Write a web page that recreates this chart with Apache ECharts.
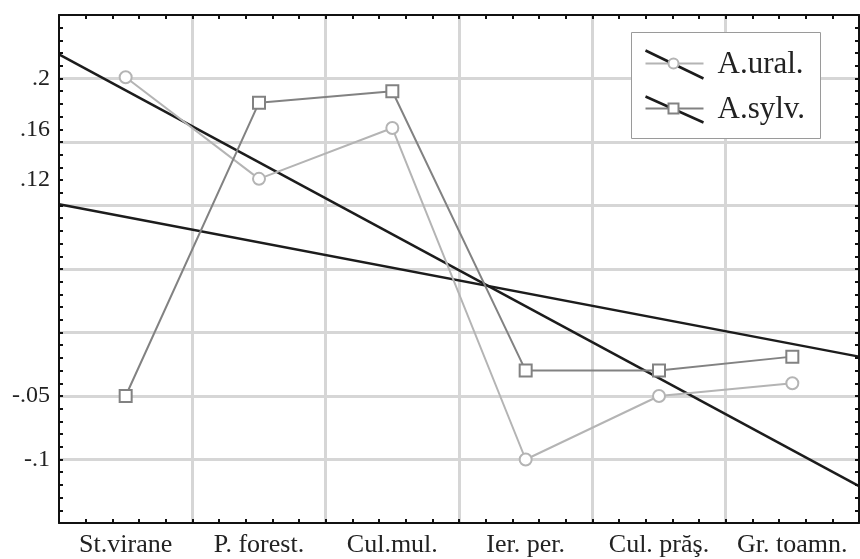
<!DOCTYPE html>
<html>
<head>
<meta charset="utf-8">
<script src="https://cdn.jsdelivr.net/npm/echarts@6/dist/echarts.min.js"></script>
<style>
  html, body { margin: 0; padding: 0; background: #fff; }
  #chart { width: 860px; height: 559px; }
</style>
</head>
<body>
<div id="chart"></div>
<script>
// Habitat categories along the x axis
const categories = ['St.virane', 'P. forest.', 'Cul.mul.', 'Ier. per.', 'Cul. prăş.', 'Gr. toamn.'];

// Scores per habitat for the two species
const uralValues = [0.201, 0.121, 0.161, -0.100, -0.050, -0.040];
const sylvValues = [-0.050, 0.181, 0.190, -0.030, -0.030, -0.019];

// Fitted trend lines: value at the left and right edge of the habitat band
const trendEdges = [0, 6];
const uralTrend = [0.219, -0.121];
const sylvTrend = [0.101, -0.019];

// Values that carry a printed label on the y axis
const yTickLabels = [0.2, 0.16, 0.12, -0.05, -0.1];

const FONT = '"Liberation Serif", "DejaVu Serif", serif';
const URAL_COLOR = '#b4b4b4';
const SYLV_COLOR = '#828282';
const TREND_COLOR = '#1c1c1c';
const GRID_COLOR = '#d6d6d6';

function shortNumber(v) {
  const s = String(+v.toFixed(2));
  return s.replace('0.', '.');
}

const frameLine = { show: true, onZero: false, lineStyle: { color: '#111', width: 2 } };
const frameTick = { show: true, inside: true, length: 4, lineStyle: { color: '#111', width: 2 } };
const noLine = { show: false, onZero: false };

const chart = echarts.init(document.getElementById('chart'), null, { renderer: 'canvas' });

const LZ = 100;

chart.setOption({
  animation: false,
  backgroundColor: '#fff',
  grid: { left: 59, right: 1, top: 15, bottom: 36, outerBoundsMode: 'none', containLabel: false },
  xAxis: [
    { // category labels
      type: 'category', data: categories, boundaryGap: true, position: 'bottom', z: 3,
      axisLine: noLine, axisTick: { show: false }, splitLine: { show: false },
      axisLabel: { interval: 0, fontFamily: FONT, fontSize: 26, color: '#222', margin: 9 }
    },
    { // vertical grid lines between habitats
      type: 'value', min: 0, max: 6, interval: 1, position: 'bottom', z: 0,
      axisLine: noLine, axisTick: { show: false }, axisLabel: { show: false },
      splitLine: { show: true, showMinLine: false, showMaxLine: false, lineStyle: { color: GRID_COLOR, width: 3 } }
    },
    { // bottom frame with ticks
      type: 'value', min: 0, max: 6, interval: 1, position: 'bottom', z: 3,
      axisLine: frameLine, axisTick: frameTick, axisLabel: { show: false }, splitLine: { show: false },
      minorTick: { show: true, splitNumber: 5, length: 4, lineStyle: { color: '#111', width: 2 } }
    },
    { // top frame with ticks
      type: 'value', min: 0, max: 6, interval: 1, position: 'top', z: 3,
      axisLine: frameLine, axisTick: frameTick, axisLabel: { show: false }, splitLine: { show: false },
      minorTick: { show: true, splitNumber: 5, length: 4, lineStyle: { color: '#111', width: 2 } }
    }
  ],
  yAxis: [
    { // horizontal grid lines
      type: 'value', min: -0.15, max: 0.25, interval: 0.05, position: 'left', z: 0,
      axisLine: noLine, axisTick: { show: false }, axisLabel: { show: false },
      splitLine: { show: true, showMinLine: false, showMaxLine: false, lineStyle: { color: GRID_COLOR, width: 3 } }
    },
    { // left frame, ticks and labels
      type: 'value', min: -0.15, max: 0.25, interval: 0.01, position: 'left', z: 3,
      axisLine: frameLine, axisTick: frameTick, splitLine: { show: false },
      axisLabel: {
        fontFamily: FONT, fontSize: 24, color: '#222', margin: 9,
        formatter: v => yTickLabels.some(t => Math.abs(t - v) < 1e-6) ? shortNumber(v) : ''
      }
    },
    { // right frame with ticks
      type: 'value', min: -0.15, max: 0.25, interval: 0.01, position: 'right', z: 3,
      axisLine: frameLine, axisTick: frameTick, axisLabel: { show: false }, splitLine: { show: false }
    }
  ],
  series: [
    {
      name: 'A.ural. trend', type: 'line', xAxisIndex: 1, yAxisIndex: 0, silent: true, z: 2,
      data: [[trendEdges[0], uralTrend[0]], [trendEdges[1], uralTrend[1]]],
      symbol: 'none', lineStyle: { color: TREND_COLOR, width: 2.5 }
    },
    {
      name: 'A.sylv. trend', type: 'line', xAxisIndex: 1, yAxisIndex: 0, silent: true, z: 2,
      data: [[trendEdges[0], sylvTrend[0]], [trendEdges[1], sylvTrend[1]]],
      symbol: 'none', lineStyle: { color: TREND_COLOR, width: 2.5 }
    },
    {
      name: 'A.ural.', type: 'line', xAxisIndex: 0, yAxisIndex: 0, z: 2,
      data: uralValues, symbol: 'emptyCircle', symbolSize: 12,
      lineStyle: { color: URAL_COLOR, width: 2 },
      itemStyle: { color: URAL_COLOR, borderColor: URAL_COLOR, borderWidth: 2.5 }
    },
    {
      name: 'A.sylv.', type: 'line', xAxisIndex: 0, yAxisIndex: 0, z: 2,
      data: sylvValues, symbol: 'emptyRect', symbolSize: 12,
      lineStyle: { color: SYLV_COLOR, width: 2 },
      itemStyle: { color: SYLV_COLOR, borderColor: SYLV_COLOR, borderWidth: 2.5 }
    }
  ],
  // Legend box: each key shows the species line crossed by its trend line
  graphic: [{
    type: 'group', left: 631, top: 32, z: LZ,
    children: [
      { type: 'rect', z: LZ, shape: { x: 0, y: 0, width: 189, height: 106 },
        style: { fill: '#fff', stroke: '#9a9a9a', lineWidth: 1 } },

      { type: 'line', z: LZ + 1, shape: { x1: 14, y1: 31, x2: 72, y2: 31 }, style: { stroke: URAL_COLOR, lineWidth: 2 } },
      { type: 'line', z: LZ + 2, shape: { x1: 14, y1: 18, x2: 72, y2: 46 }, style: { stroke: TREND_COLOR, lineWidth: 2.5 } },
      { type: 'circle', z: LZ + 3, shape: { cx: 42, cy: 31, r: 5 }, style: { fill: '#fff', stroke: URAL_COLOR, lineWidth: 2 } },
      { type: 'text', z: LZ + 1, x: 86, y: 32, style: { text: 'A.ural.', font: '31px ' + FONT, fill: '#222', verticalAlign: 'middle' } },

      { type: 'line', z: LZ + 1, shape: { x1: 14, y1: 76, x2: 72, y2: 76 }, style: { stroke: SYLV_COLOR, lineWidth: 2 } },
      { type: 'line', z: LZ + 2, shape: { x1: 14, y1: 64, x2: 72, y2: 90 }, style: { stroke: TREND_COLOR, lineWidth: 2.5 } },
      { type: 'rect', z: LZ + 3, shape: { x: 37, y: 71, width: 10, height: 10 }, style: { fill: '#fff', stroke: SYLV_COLOR, lineWidth: 2 } },
      { type: 'text', z: LZ + 1, x: 86, y: 77, style: { text: 'A.sylv.', font: '31px ' + FONT, fill: '#222', verticalAlign: 'middle' } }
    ]
  }]
});
</script>
</body>
</html>
